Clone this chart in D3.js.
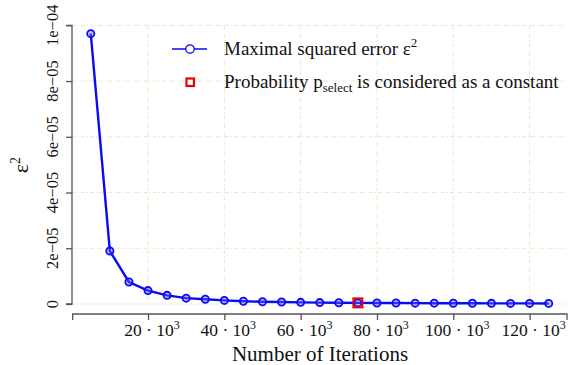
<!DOCTYPE html>
<html>
<head>
<meta charset="utf-8">
<script src="https://cdn.jsdelivr.net/npm/d3@7"></script>
<style>
  body { margin: 0; background: #fff; }
  text { font-family: "Liberation Serif", "Times New Roman", serif; fill: #111; }
</style>
</head>
<body>
<div id="chart"></div>
<script>
// ---------------  DATA  ---------------
const iterations = [5000, 10000, 15000, 20000, 25000, 30000, 35000, 40000, 45000, 50000,
  55000, 60000, 65000, 70000, 75000, 80000, 85000, 90000, 95000, 100000,
  105000, 110000, 115000, 120000, 125000];
const sqError = [9.7e-5, 1.9e-5, 7.9e-6, 4.8e-6, 3.1e-6, 2.1e-6, 1.7e-6, 1.3e-6, 1.0e-6, 0.8e-6,
  0.7e-6, 0.6e-6, 0.5e-6, 0.45e-6, 0.4e-6, 0.37e-6, 0.34e-6, 0.31e-6, 0.29e-6, 0.27e-6,
  0.25e-6, 0.24e-6, 0.22e-6, 0.21e-6, 0.2e-6];
const constantAt = 75000;
const xTicks = [20000, 40000, 60000, 80000, 100000, 120000];
const yTicks = [0, 2e-5, 4e-5, 6e-5, 8e-5, 1e-4];
const yTickLabels = ["0", "2e\u221205", "4e\u221205", "6e\u221205", "8e\u221205", "1e\u221204"];

// ---------------  INIT  ---------------
const width = 574, height = 365;
const svg = d3.select("#chart").append("svg")
  .attr("width", width).attr("height", height);

const x = d3.scaleLinear().domain([0, 129800]).range([71.7, 567]);
const y = d3.scaleLinear().domain([0, 1e-4]).range([304, 25.3]);

const gridColor = "#ece4c8";

// ---------------  GRID  ---------------
svg.append("g").selectAll("line").data(xTicks).enter().append("line")
  .attr("x1", d => x(d)).attr("x2", d => x(d))
  .attr("y1", y(1e-4)).attr("y2", y(0))
  .attr("stroke", gridColor).attr("stroke-width", 1)
  .attr("stroke-dasharray", "4,2,1,2");
svg.append("g").selectAll("line").data(yTicks).enter().append("line")
  .attr("x1", x.range()[0]).attr("x2", x.range()[1])
  .attr("y1", d => y(d)).attr("y2", d => y(d))
  .attr("stroke", gridColor).attr("stroke-width", 1)
  .attr("stroke-dasharray", "4,2,1,2");

// ---------------  AXES  ---------------
const yAxis = svg.append("g").attr("transform", "translate(72,0)")
  .call(d3.axisLeft(y).tickValues(yTicks).tickSize(6).tickFormat(""));
const xAxis = svg.append("g").attr("transform", "translate(0,314)")
  .call(d3.axisBottom(x).tickValues(xTicks).tickSize(6).tickFormat(""));
[yAxis, xAxis].forEach(a => {
  a.select(".domain").attr("stroke", "#555").attr("stroke-width", 1.3);
  a.selectAll(".tick line").attr("stroke", "#555").attr("stroke-width", 1.3);
});
yAxis.select(".domain").attr("d", `M-6,${y(1e-4)}H0V${y(0)}H-6`);
xAxis.select(".domain").attr("d", `M72.7,6V0H567V6`);

// y tick labels, rotated
svg.append("g").selectAll("text").data(yTicks).enter().append("text")
  .attr("transform", d => `translate(58,${y(d)}) rotate(-90)`)
  .attr("text-anchor", "middle")
  .attr("font-size", 16.5)
  .text((d, i) => yTickLabels[i]);

// x tick labels "20 · 10^3"
const xl = svg.append("g").selectAll("text").data(xTicks).enter().append("text")
  .attr("x", d => x(d) + 4).attr("y", 336)
  .attr("text-anchor", "middle")
  .attr("font-size", 17.5);
xl.append("tspan").text(d => (d / 1000) + " \u00b7 10");
xl.append("tspan").attr("dy", -7).attr("font-size", 12).text("3");

// axis titles
svg.append("text").attr("x", 320).attr("y", 361)
  .attr("text-anchor", "middle").attr("font-size", 21)
  .text("Number of Iterations");
const yt = svg.append("text")
  .attr("transform", "translate(28,165) rotate(-90)")
  .attr("text-anchor", "middle").attr("font-size", 22);
yt.append("tspan").text("\u03b5");
yt.append("tspan").attr("dy", -8).attr("font-size", 14).text("2");

// ---------------  SERIES  ---------------
const pts = iterations.map((d, i) => [d, sqError[i]]);
svg.append("path").datum(pts)
  .attr("fill", "none").attr("stroke", "#0a0af5").attr("stroke-width", 2.4)
  .attr("d", d3.line().x(d => x(d[0])).y(d => y(d[1])));
svg.append("g").selectAll("circle").data(pts).enter().append("circle")
  .attr("cx", d => x(d[0])).attr("cy", d => y(d[1])).attr("r", 3.6)
  .attr("fill", "#6a6af8").attr("fill-opacity", 0.4)
  .attr("stroke", "#0a0af5").attr("stroke-width", 1.8);

// constant marker
const ci = iterations.indexOf(constantAt);
svg.append("rect")
  .attr("x", x(constantAt) - 4.5).attr("y", y(sqError[ci]) - 4.5)
  .attr("width", 9).attr("height", 9)
  .attr("fill", "none").attr("stroke", "#ee0000").attr("stroke-width", 2);

// ---------------  LEGEND  ---------------
const leg = svg.append("g");
leg.append("line").attr("x1", 172).attr("x2", 207).attr("y1", 49).attr("y2", 49)
  .attr("stroke", "#0a0af5").attr("stroke-width", 1.3);
leg.append("circle").attr("cx", 190).attr("cy", 49).attr("r", 4.2)
  .attr("fill", "#fff").attr("stroke", "#0a0af5").attr("stroke-width", 1.3);
leg.append("rect").attr("x", 186.5).attr("y", 78.5).attr("width", 7.5).attr("height", 7.5)
  .attr("fill", "none").attr("stroke", "#ee0000").attr("stroke-width", 2.2);

const t1 = leg.append("text").attr("x", 224).attr("y", 55).attr("font-size", 19);
t1.append("tspan").text("Maximal squared error \u03b5");
t1.append("tspan").attr("dy", -8).attr("font-size", 13).text("2");

const t2 = leg.append("text").attr("x", 224).attr("y", 88).attr("font-size", 19);
t2.append("tspan").text("Probability p");
t2.append("tspan").attr("dy", 4).attr("font-size", 13).text("select");
t2.append("tspan").attr("dy", -4).text(" is considered as a constant");
</script>
</body>
</html>
